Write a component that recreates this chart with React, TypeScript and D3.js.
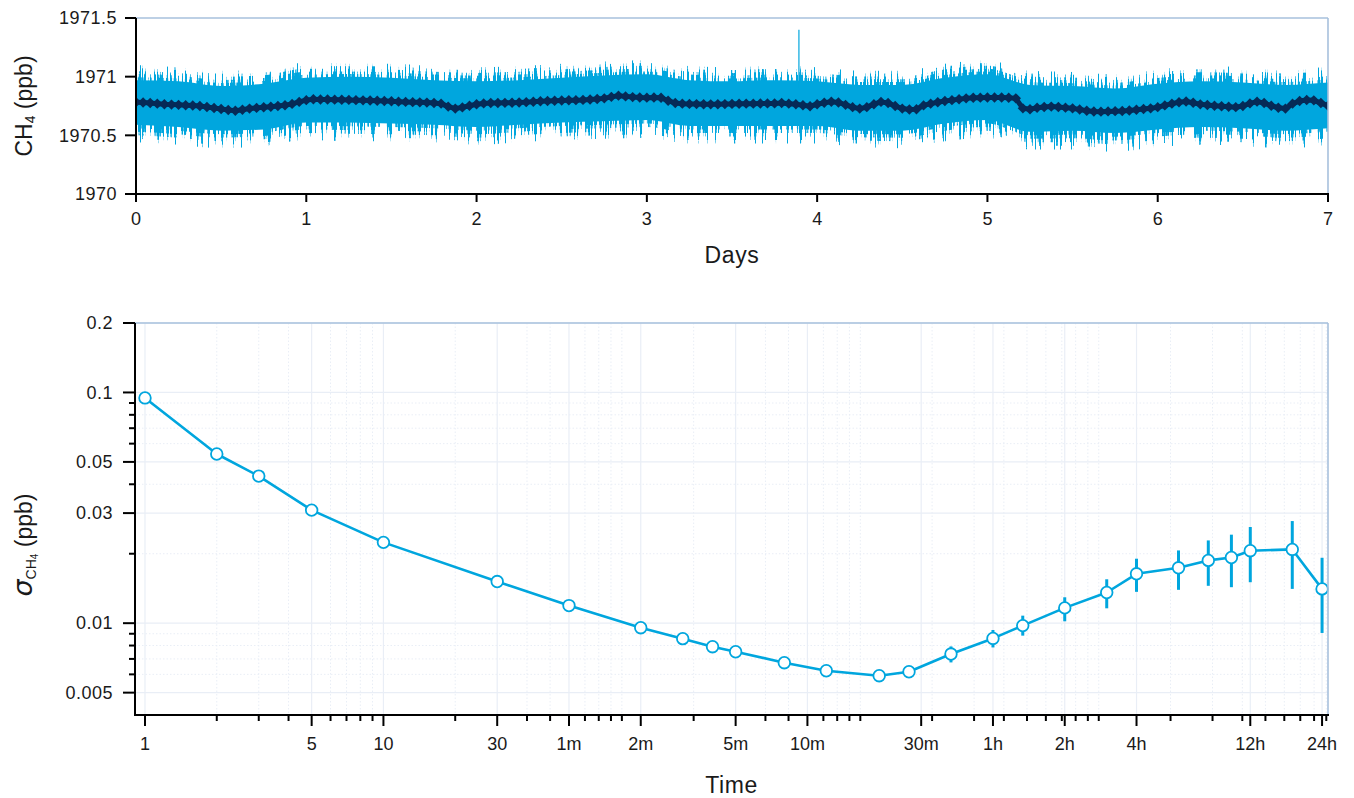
import React from 'react';
import * as d3 from 'd3';

// ---------- Top panel data (CH4 time series, 7 days) ----------
const hourlyMean: number[] = [
  // day 0
  1970.783, 1970.780, 1970.776, 1970.770, 1970.765, 1970.762, 1970.760, 1970.757, 1970.754, 1970.750, 1970.742, 1970.733,
  1970.725, 1970.716, 1970.709, 1970.718, 1970.728, 1970.734, 1970.739, 1970.744, 1970.750, 1970.756, 1970.768, 1970.785,
  // day 1
  1970.800, 1970.807, 1970.806, 1970.805, 1970.804, 1970.803, 1970.802, 1970.800, 1970.798, 1970.797, 1970.795, 1970.793,
  1970.790, 1970.787, 1970.785, 1970.783, 1970.781, 1970.779, 1970.776, 1970.770, 1970.745, 1970.728, 1970.738, 1970.752,
  // day 2
  1970.765, 1970.772, 1970.775, 1970.776, 1970.777, 1970.778, 1970.780, 1970.783, 1970.786, 1970.790, 1970.793, 1970.795,
  1970.797, 1970.799, 1970.800, 1970.802, 1970.806, 1970.810, 1970.815, 1970.828, 1970.838, 1970.832, 1970.826, 1970.822,
  // day 3
  1970.821, 1970.822, 1970.820, 1970.795, 1970.775, 1970.770, 1970.768, 1970.766, 1970.765, 1970.764, 1970.765, 1970.766,
  1970.768, 1970.769, 1970.770, 1970.770, 1970.771, 1970.772, 1970.772, 1970.775, 1970.770, 1970.765, 1970.757, 1970.748,
  // day 4
  1970.765, 1970.778, 1970.786, 1970.780, 1970.760, 1970.740, 1970.728, 1970.740, 1970.765, 1970.785, 1970.775, 1970.750,
  1970.728, 1970.720, 1970.722, 1970.755, 1970.770, 1970.782, 1970.792, 1970.800, 1970.808, 1970.815, 1970.820, 1970.821,
  // day 5
  1970.822, 1970.822, 1970.822, 1970.820, 1970.815, 1970.730, 1970.722, 1970.735, 1970.742, 1970.745, 1970.742, 1970.736,
  1970.730, 1970.720, 1970.710, 1970.703, 1970.702, 1970.704, 1970.706, 1970.708, 1970.712, 1970.718, 1970.724, 1970.730,
  // day 6
  1970.740, 1970.755, 1970.770, 1970.782, 1970.788, 1970.778, 1970.764, 1970.758, 1970.752, 1970.748, 1970.744, 1970.740,
  1970.750, 1970.772, 1970.787, 1970.775, 1970.752, 1970.735, 1970.728, 1970.770, 1970.792, 1970.801, 1970.798, 1970.775,
  // day 7
  1970.752,
];

// 6-hourly envelope of the raw 1 Hz signal (days 0, 0.25, ..., 7)
const envelopeDays: number[] = [
  0, 0.25, 0.5, 0.75, 1, 1.25, 1.5, 1.75, 2, 2.25, 2.5, 2.75, 3, 3.25, 3.5, 3.75,
  4, 4.25, 4.5, 4.75, 5, 5.25, 5.5, 5.75, 6, 6.25, 6.5, 6.75, 7,
];
const coreUpper: number[] = [
  1970.97, 1970.96, 1970.92, 1970.94, 1970.99, 1971.0, 1970.99, 1970.97, 1970.96, 1970.97, 1970.99, 1971.01, 1971.02, 1970.97, 1970.96,
  1970.97, 1970.96, 1970.93, 1970.93, 1970.99, 1971.02, 1970.93, 1970.92, 1970.9, 1970.94, 1970.96, 1970.95, 1970.93, 1970.95,
];
const coreLower: number[] = [
  1970.59, 1970.57, 1970.54, 1970.55, 1970.61, 1970.61, 1970.6, 1970.59, 1970.57, 1970.59, 1970.61, 1970.62, 1970.63, 1970.58, 1970.58,
  1970.58, 1970.58, 1970.54, 1970.54, 1970.6, 1970.63, 1970.53, 1970.54, 1970.52, 1970.55, 1970.57, 1970.56, 1970.54, 1970.56,
];
const outerUpper: number[] = [
  1971.1, 1971.08, 1971.05, 1971.06, 1971.12, 1971.11, 1971.11, 1971.09, 1971.08, 1971.09, 1971.11, 1971.13, 1971.14, 1971.09, 1971.08,
  1971.09, 1971.08, 1971.05, 1971.05, 1971.11, 1971.14, 1971.05, 1971.04, 1971.02, 1971.06, 1971.09, 1971.08, 1971.05, 1971.09,
];
const outerLower: number[] = [
  1970.44, 1970.42, 1970.39, 1970.41, 1970.46, 1970.45, 1970.45, 1970.44, 1970.42, 1970.44, 1970.46, 1970.47, 1970.48, 1970.43, 1970.43,
  1970.43, 1970.43, 1970.4, 1970.39, 1970.45, 1970.48, 1970.38, 1970.38, 1970.36, 1970.4, 1970.42, 1970.41, 1970.39, 1970.42,
];
const spikeDays: number[] = [3.893];
const spikeValues: number[] = [1971.4];

const topYTicks: number[] = [1970, 1970.5, 1971, 1971.5];
const topYLabels: string[] = ['1970', '1970.5', '1971', '1971.5'];
const topXTicks: number[] = [0, 1, 2, 3, 4, 5, 6, 7];

// ---------- Bottom panel data (Allan deviation) ----------
const tauSeconds: number[] = [
  1, 2, 3, 5, 10, 30, 60, 120, 180, 240, 300, 480, 720, 1200, 1600, 2400, 3600, 4800, 7200, 10800, 14400, 21600, 28800,
  36000, 43200, 64800, 86400,
];
const sigma: number[] = [
  0.0947, 0.0541, 0.0434, 0.0309, 0.0224, 0.01515, 0.01192, 0.00956, 0.00857, 0.00791, 0.00752, 0.00674, 0.00622, 0.00592,
  0.00616, 0.00735, 0.00859, 0.00976, 0.01165, 0.01358, 0.01637, 0.01738, 0.01871, 0.01926, 0.02061, 0.02088, 0.01408,
];
const sigmaLow: number[] = [
  0.0947, 0.0541, 0.0434, 0.0309, 0.0224, 0.01515, 0.01192, 0.00956, 0.00857, 0.00791, 0.00752, 0.00674, 0.00622, 0.00592,
  0.00605, 0.00676, 0.00785, 0.00883, 0.01019, 0.0116, 0.01367, 0.01395, 0.01452, 0.01432, 0.01505, 0.01408, 0.00907,
];
const sigmaHigh: number[] = [
  0.0947, 0.0541, 0.0434, 0.0309, 0.0224, 0.01515, 0.01192, 0.00956, 0.00857, 0.00791, 0.00752, 0.00674, 0.00622, 0.00592,
  0.00628, 0.00793, 0.00934, 0.01078, 0.01295, 0.0155, 0.01903, 0.02067, 0.02284, 0.02419, 0.02611, 0.02771, 0.01921,
];

const bottomXTicks: number[] = [1, 5, 10, 30, 60, 120, 300, 600, 1800, 3600, 7200, 14400, 43200, 86400];
const bottomXLabels: string[] = ['1', '5', '10', '30', '1m', '2m', '5m', '10m', '30m', '1h', '2h', '4h', '12h', '24h'];
const bottomYTicks: number[] = [0.2, 0.1, 0.05, 0.03, 0.01, 0.005];
const bottomYLabels: string[] = ['0.2', '0.1', '0.05', '0.03', '0.01', '0.005'];

// ---------- Styling ----------
const BLUE = '#00a6de';
const NAVY = '#062a57';
const FRAME = '#a7c0dc';
const GRID = '#e9eef6';
const FONT = '"Liberation Sans", Arial, Helvetica, sans-serif';
const TEXT = '#1a1a1a';

const W = 1354;
const H = 798;

const top = { left: 136, right: 1328, top: 18, bottom: 194 };
const bot = { left: 135, right: 1328, top: 323, bottom: 715 };

// fringe layers: fraction of the way from the dense core to the outer spike envelope, and noise threshold
const fringeLevels = [
  { f: 0.2, t: 0.44 },
  { f: 0.4, t: 0.5 },
  { f: 0.6, t: 0.56 },
  { f: 0.8, t: 0.62 },
  { f: 1.0, t: 0.68 },
];

function minorLogTicks(lo: number, hi: number): number[] {
  const out: number[] = [];
  for (let e = Math.floor(Math.log10(lo)) - 1; e <= Math.ceil(Math.log10(hi)); e++) {
    for (let m = 1; m <= 9; m++) {
      const v = m * Math.pow(10, e);
      if (v >= lo * 1.0001 && v <= hi * 0.9999) out.push(v);
    }
  }
  return out;
}

export default function App() {
  const xT = d3.scaleLinear().domain([0, 7]).range([top.left, top.right]);
  const yT = d3.scaleLinear().domain([1970, 1971.5]).range([top.bottom, top.top]);

  const coreArea = d3
    .area<number>()
    .x((_, i) => xT(envelopeDays[i]))
    .y0((_, i) => yT(coreLower[i]))
    .y1((d) => yT(d))
    .curve(d3.curveMonotoneX)(coreUpper) as string;

  const fringePaths = fringeLevels.map(({ f, t }) => {
    const d = d3
      .area<number>()
      .x((_, i) => xT(envelopeDays[i]))
      .y0((_, i) => yT(coreLower[i] + f * (outerLower[i] - coreLower[i])))
      .y1((_, i) => yT(coreUpper[i] + f * (outerUpper[i] - coreUpper[i])))
      .curve(d3.curveMonotoneX)(coreUpper) as string;
    return { d, t, f };
  });

  const meanLine = d3
    .line<number>()
    .x((_, i) => xT(i / 24))
    .y((d) => yT(d))(hourlyMean) as string;

  const xB = d3.scaleLog().domain([0.908, 91500]).range([bot.left, bot.right]);
  const yB = d3.scaleLog().domain([0.004, 0.2]).range([bot.bottom, bot.top]);
  const xMinor = minorLogTicks(0.908, 91500).filter((v) => !bottomXTicks.some((t) => Math.abs(t - v) / t < 1e-6));
  const yMinor = minorLogTicks(0.004, 0.2).filter((v) => !bottomYTicks.some((t) => Math.abs(t - v) / t < 1e-6));
  const adevLine = d3
    .line<number>()
    .x((_, i) => xB(tauSeconds[i]))
    .y((d) => yB(d))(sigma) as string;

  const dia = 5.2;
  const K = 18;

  return (
    <svg
      width={W}
      height={H}
      style={{ position: 'absolute', left: 0, top: 0, background: '#fff' }}
      fontFamily={FONT}
    >
      <defs>
        <clipPath id="topClip">
          <rect x={top.left} y={top.top - 2} width={top.right - top.left} height={top.bottom - top.top + 2} />
        </clipPath>
        {fringePaths.map(({ t }, k) => (
          <filter
            key={k}
            id={'streak' + k}
            filterUnits="userSpaceOnUse"
            primitiveUnits="userSpaceOnUse"
            colorInterpolationFilters="sRGB"
            x={0}
            y={0}
            width={W}
            height={260}
          >
            <feTurbulence type="fractalNoise" baseFrequency="0.55 0.004" numOctaves={2} seed={7} result="noise" />
            <feColorMatrix
              in="noise"
              type="matrix"
              values={`0 0 0 0 0  0 0 0 0 0.651  0 0 0 0 0.871  ${K} 0 0 0 ${-K * t}`}
              result="mask"
            />
            <feComposite in="mask" in2="SourceAlpha" operator="in" />
          </filter>
        ))}
      </defs>

      {/* ================= TOP PANEL ================= */}
      <g clipPath="url(#topClip)">
        {fringePaths.map(({ d }, k) => (
          <path key={k} d={d} fill={BLUE} filter={`url(#streak${k})`} />
        ))}
        <path d={coreArea} fill={BLUE} />
        {spikeDays.map((d, i) => (
          <line key={i} x1={xT(d)} x2={xT(d)} y1={yT(1970.9)} y2={yT(spikeValues[i])} stroke={BLUE} strokeWidth={1.2} />
        ))}
        <path d={meanLine} fill="none" stroke={NAVY} strokeWidth={5} strokeLinejoin="round" />
        {hourlyMean.map((d, i) => {
          const cx = xT(i / 24);
          const cy = yT(d);
          return (
            <path
              key={i}
              d={`M${cx - dia},${cy}L${cx},${cy - dia}L${cx + dia},${cy}L${cx},${cy + dia}Z`}
              fill={NAVY}
            />
          );
        })}
      </g>
      <line x1={top.left} x2={top.right} y1={top.top} y2={top.top} stroke={FRAME} strokeWidth={1.6} />
      <line x1={top.right} x2={top.right} y1={top.top} y2={top.bottom} stroke={FRAME} strokeWidth={1.6} />
      <line x1={top.left} x2={top.left} y1={top.top} y2={top.bottom + 1} stroke="#000" strokeWidth={2} />
      <line x1={top.left - 1} x2={top.right + 1} y1={top.bottom} y2={top.bottom} stroke="#000" strokeWidth={2} />
      {topYTicks.map((t, i) => (
        <g key={t}>
          <line x1={top.left - 11} x2={top.left} y1={yT(t)} y2={yT(t)} stroke="#000" strokeWidth={2} />
          <text x={top.left - 19} y={yT(t)} dy="0.35em" textAnchor="end" fontSize={18} fill={TEXT} letterSpacing={0.5}>
            {topYLabels[i]}
          </text>
        </g>
      ))}
      {topXTicks.map((t) => (
        <g key={t}>
          <line x1={xT(t)} x2={xT(t)} y1={top.bottom} y2={top.bottom + 8} stroke="#000" strokeWidth={2} />
          <text x={xT(t)} y={top.bottom + 31} textAnchor="middle" fontSize={18} fill={TEXT}>
            {t}
          </text>
        </g>
      ))}
      <text x={(top.left + top.right) / 2} y={263} textAnchor="middle" fontSize={23} fill={TEXT} letterSpacing={0.6}>
        Days
      </text>
      <text transform={`translate(32,${(top.top + top.bottom) / 2}) rotate(-90)`} textAnchor="middle" fontSize={23} fill={TEXT}>
        CH<tspan fontSize={14} dy={3}>4</tspan>
        <tspan dy={-3}> (ppb)</tspan>
      </text>

      {/* ================= BOTTOM PANEL ================= */}
      {xMinor.map((v) => (
        <line key={'gx' + v} x1={xB(v)} x2={xB(v)} y1={bot.top} y2={bot.bottom} stroke={GRID} strokeWidth={1} strokeDasharray="1.5,2" />
      ))}
      {yMinor.map((v) => (
        <line key={'gy' + v} x1={bot.left} x2={bot.right} y1={yB(v)} y2={yB(v)} stroke={GRID} strokeWidth={1} strokeDasharray="1.5,2" />
      ))}
      {bottomXTicks.map((v) => (
        <line key={'GX' + v} x1={xB(v)} x2={xB(v)} y1={bot.top} y2={bot.bottom} stroke={GRID} strokeWidth={1.2} />
      ))}
      {bottomYTicks.map((v) => (
        <line key={'GY' + v} x1={bot.left} x2={bot.right} y1={yB(v)} y2={yB(v)} stroke={GRID} strokeWidth={1.2} />
      ))}

      <path d={adevLine} fill="none" stroke={BLUE} strokeWidth={2.6} strokeLinejoin="round" />
      {tauSeconds.map((t, i) => (
        <line
          key={'eb' + t}
          x1={xB(t)}
          x2={xB(t)}
          y1={yB(sigmaLow[i])}
          y2={yB(sigmaHigh[i])}
          stroke={BLUE}
          strokeWidth={3}
        />
      ))}
      {tauSeconds.map((t, i) => (
        <circle key={'pt' + t} cx={xB(t)} cy={yB(sigma[i])} r={5.8} fill="#fff" stroke={BLUE} strokeWidth={1.8} />
      ))}

      <line x1={bot.left} x2={bot.right} y1={bot.top} y2={bot.top} stroke={FRAME} strokeWidth={1.6} />
      <line x1={bot.right} x2={bot.right} y1={bot.top} y2={bot.bottom} stroke={FRAME} strokeWidth={1.6} />
      <line x1={bot.left} x2={bot.left} y1={bot.top} y2={bot.bottom + 1} stroke="#000" strokeWidth={2} />
      <line x1={bot.left - 1} x2={bot.right + 1} y1={bot.bottom} y2={bot.bottom} stroke="#000" strokeWidth={2} />

      {yMinor.map((v) => (
        <line key={'my' + v} x1={bot.left - 6} x2={bot.left} y1={yB(v)} y2={yB(v)} stroke="#000" strokeWidth={2} />
      ))}
      {bottomYTicks.map((v, i) => (
        <g key={'Y' + v}>
          <line x1={bot.left - 12} x2={bot.left} y1={yB(v)} y2={yB(v)} stroke="#000" strokeWidth={2} />
          <text x={bot.left - 22} y={yB(v)} dy="0.35em" textAnchor="end" fontSize={18} fill={TEXT} letterSpacing={0.5}>
            {bottomYLabels[i]}
          </text>
        </g>
      ))}
      {xMinor.map((v) => (
        <line key={'mx' + v} x1={xB(v)} x2={xB(v)} y1={bot.bottom} y2={bot.bottom + 6} stroke="#000" strokeWidth={2} />
      ))}
      {bottomXTicks.map((v, i) => (
        <g key={'X' + v}>
          <line x1={xB(v)} x2={xB(v)} y1={bot.bottom} y2={bot.bottom + 11} stroke="#000" strokeWidth={2} />
          <text x={xB(v)} y={bot.bottom + 35} textAnchor="middle" fontSize={18} fill={TEXT}>
            {bottomXLabels[i]}
          </text>
        </g>
      ))}
      <text x={(bot.left + bot.right) / 2} y={793} textAnchor="middle" fontSize={23} fill={TEXT} letterSpacing={0.6}>
        Time
      </text>
      <text transform={`translate(32,545) rotate(-90)`} textAnchor="middle" fontSize={23} fill={TEXT}>
        <tspan fontStyle="italic" fontSize={27} fontFamily='"DejaVu Sans", sans-serif'>σ</tspan>
        <tspan fontSize={14} dy={4}>CH</tspan>
        <tspan fontSize={10} dy={2}>4</tspan>
        <tspan dy={-6}> (ppb)</tspan>
      </text>
    </svg>
  );
}
